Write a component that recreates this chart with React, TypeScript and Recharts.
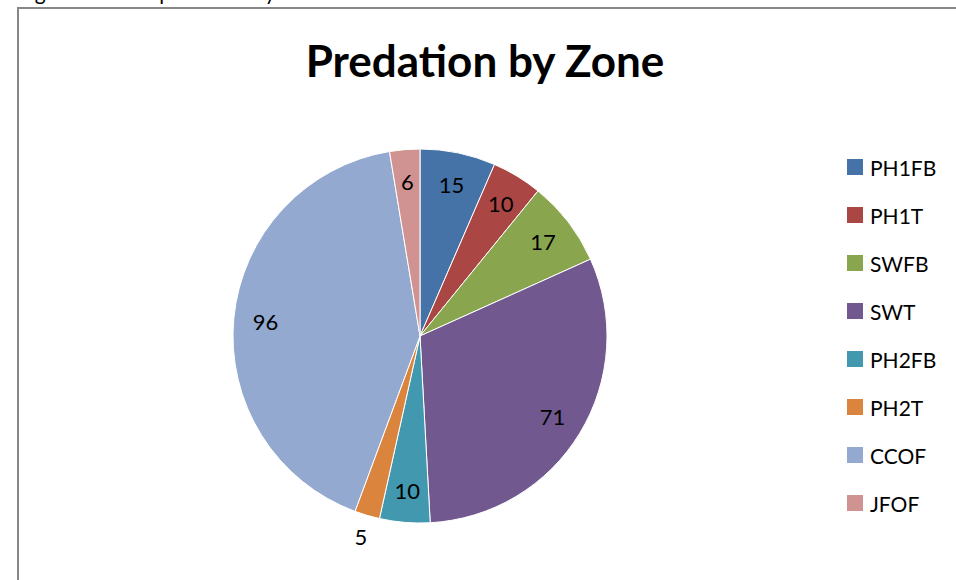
import { PieChart, Pie, Cell, Legend } from "recharts"

const zones = ["PH1FB", "PH1T", "SWFB", "SWT", "PH2FB", "PH2T", "CCOF", "JFOF"]
const counts = [15, 10, 17, 71, 10, 5, 96, 6]
const colors = ["#4572A7", "#AA4643", "#89A54E", "#71588F", "#4198AF", "#DB843D", "#93A9CF", "#D19392"]

const data = zones.map((z, i) => ({ name: z, value: counts[i] }))

const FONT = "Lato, 'Open Sans', sans-serif"
const RAD = Math.PI / 180

// Excel "best fit": small slices get pushed outside
const renderLabel = (p: any) => {
  const outside = p.value < 6
  const r = outside ? p.outerRadius + 22 : p.outerRadius * 0.83
  const x = p.cx + r * Math.cos(-p.midAngle * RAD)
  const y = p.cy + r * Math.sin(-p.midAngle * RAD)
  return (
    <text x={x} y={y} textAnchor="middle" dominantBaseline="central" fontSize={22} fill="#000" fontFamily={FONT}>
      {p.value}
    </text>
  )
}

const renderLegend = () => (
  <div style={{ fontFamily: FONT, fontSize: 21 }}>
    {zones.map((z, i) => (
      <div key={z} style={{ display: "flex", alignItems: "center", height: 48 }}>
        <span style={{ width: 16, height: 16, background: colors[i], display: "inline-block", marginRight: 7 }} />
        <span>{z}</span>
      </div>
    ))}
  </div>
)

export default function App() {
  return (
    <div style={{ position: "absolute", left: 0, top: 0, width: 956, height: 580, overflow: "hidden", background: "#fff" }}>
      <div style={{ position: "absolute", left: 18, top: -21, fontFamily: FONT, fontSize: 21, color: "#000", whiteSpace: "nowrap" }}>
        Figure 11: Fish predation by zone
      </div>
      <div style={{ position: "absolute", left: 17, top: 7, width: 1000, height: 700, border: "2px solid #878787" }} />
      <div style={{ position: "absolute", left: 0, width: 970, top: 34, textAlign: "center", fontFamily: FONT, fontWeight: 700, fontSize: 44, color: "#000" }}>
        Predation by Zone
      </div>
      <div style={{ position: "absolute", left: 0, top: 0 }}>
        <PieChart width={956} height={580} margin={{ top: 0, right: 0, bottom: 0, left: 0 }}>
          <Pie
            data={data}
            dataKey="value"
            nameKey="name"
            cx={420}
            cy={336}
            outerRadius={187}
            startAngle={90}
            endAngle={-270}
            stroke="#fff"
            strokeWidth={1}
            label={renderLabel}
            labelLine={false}
            isAnimationActive={false}
          >
            {data.map((d, i) => (
              <Cell key={d.name} fill={colors[i]} />
            ))}
          </Pie>
          <Legend
            layout="vertical"
            content={renderLegend}
            wrapperStyle={{ left: 847, top: 143, width: 110 }}
          />
        </PieChart>
      </div>
    </div>
  )
}
